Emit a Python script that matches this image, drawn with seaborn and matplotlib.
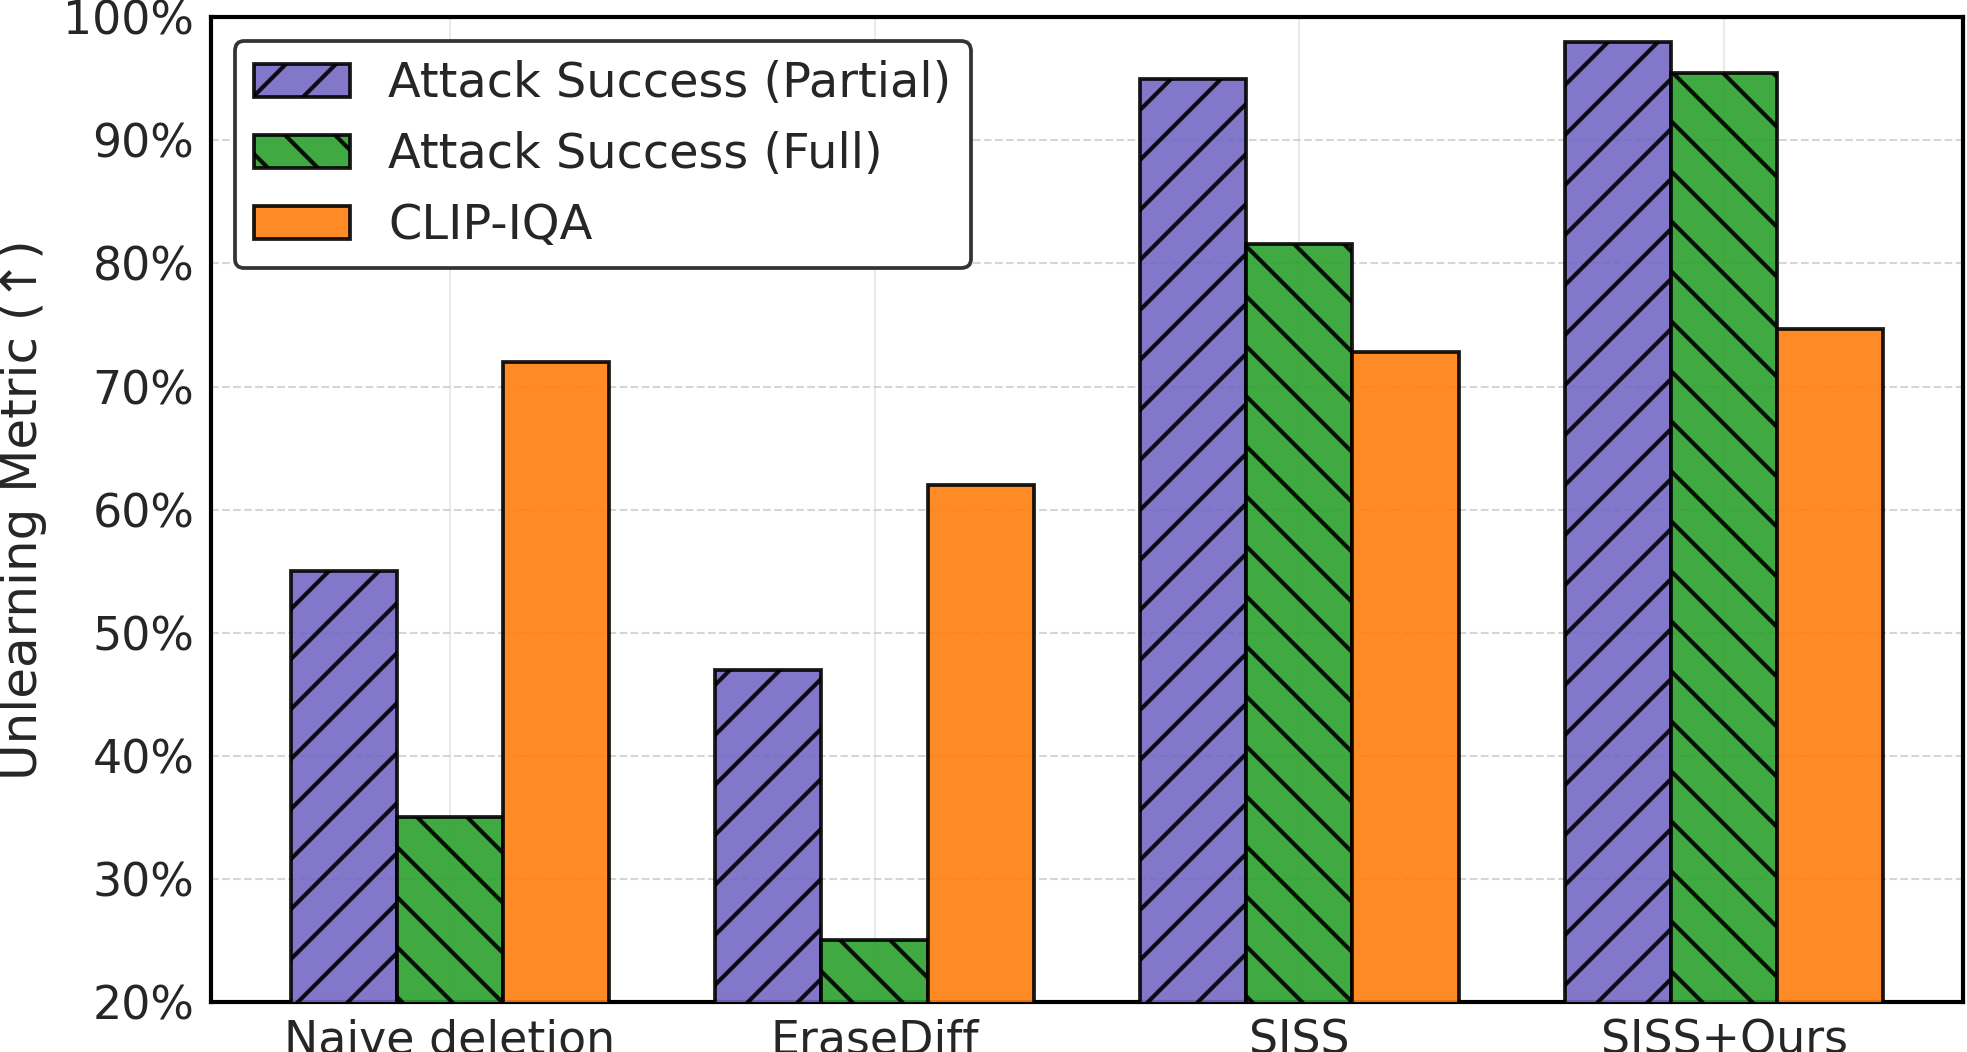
import seaborn as sns
import pandas as pd
import matplotlib.pyplot as plt
from matplotlib.ticker import PercentFormatter

metodos = ['Naive deletion', 'EraseDiff', 'SISS', 'SISS+Ours']
metricas = ['Attack Success (Partial)', 'Attack Success (Full)', 'CLIP-IQA']
parcial = [55.0, 47.0, 95.0, 98.0]
completo = [35.0, 25.0, 81.6, 95.5]
clip_iqa = [72.0, 62.0, 72.8, 74.7]
colores = ['#7468c3', '#2ca02c', '#ff7f0e']
tramas = ['//', '\\\\', '']

df = pd.DataFrame({
    'metodo': metodos * 3,
    'metrica': [m for m in metricas for _ in metodos],
    'valor': parcial + completo + clip_iqa,
})

sns.set_theme(style='whitegrid')
plt.rcParams['font.family'] = ['DejaVu Sans']
plt.rcParams['hatch.linewidth'] = 1.0

fig = plt.figure(figsize=(1967 / 300, 1052 / 300), dpi=300)
ax = fig.add_axes([0.1072, 0.0475, 0.8908, 0.9361])

sns.barplot(data=df, x='metodo', y='valor', hue='metrica', order=metodos,
            hue_order=metricas, palette=colores, saturation=1, width=0.75,
            alpha=0.9, edgecolor='black', linewidth=0.9, legend=False, ax=ax,
            zorder=3)

for cont, trama in zip(ax.containers, tramas):
    for barra in cont:
        barra.set_hatch(trama)

ax.set_xlim(-0.5625, 3.5625)
ax.set_ylim(20, 100)
ax.yaxis.set_major_formatter(PercentFormatter(decimals=0))
ax.set_xlabel('')
ax.set_ylabel('Unlearning Metric (↑)', fontsize=12)
ax.tick_params(axis='both', labelsize=11, length=0, pad=4)

ax.xaxis.grid(True, color='#cccccc', alpha=0.4, linewidth=0.5, linestyle='-')
ax.yaxis.grid(True, color='#cccccc', alpha=0.8, linewidth=0.5, linestyle='--')
ax.set_axisbelow(True)
for spine in ax.spines.values():
    spine.set_color('black')
    spine.set_linewidth(1.0)

leg = ax.legend(handles=ax.containers, labels=metricas, loc='upper left',
                fontsize=11.5, frameon=True, fancybox=True, framealpha=1)
leg.get_frame().set_edgecolor('#333333')
leg.get_frame().set_linewidth(0.9)

plt.savefig('out.png', dpi=300)
